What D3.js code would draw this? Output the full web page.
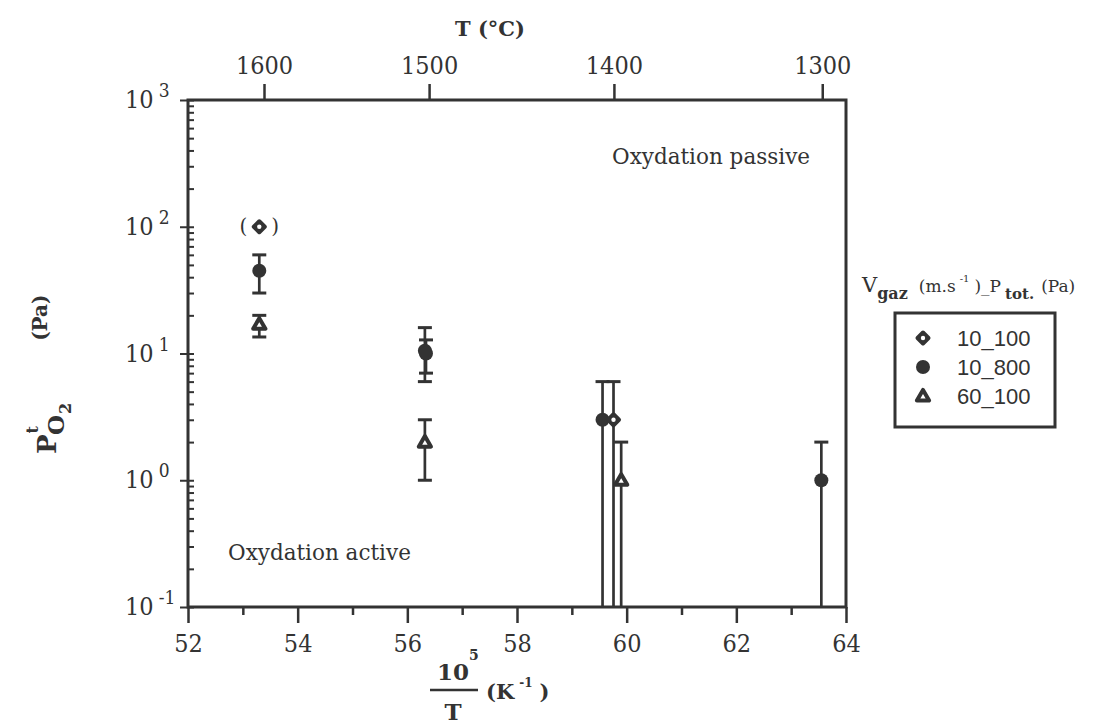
<!DOCTYPE html>
<html><head><meta charset="utf-8">
<script src="https://cdn.jsdelivr.net/npm/d3@7"></script>
<style>
body{margin:0;background:#fff;}
text{fill:#333;font-family:"DejaVu Serif",serif;}
.tick text{font-family:"DejaVu Serif",serif;font-stretch:condensed;}
</style></head><body>
<svg id="c" width="1117" height="724"></svg>
<script>
// ---- data ----
const xTicks = [52,53,54,55,56,57,58,59,60,61,62,63,64];
const tempTicks = [1600,1500,1400,1300];
const yExponents = [-1,0,1,2,3];
const seriesNames = ["10_100","10_800","60_100"];

const s10_100_x  = [53.3, 59.76];
const s10_100_y  = [100, 3];
const s10_100_lo = [null, 0.05];
const s10_100_hi = [null, 6];

const s10_800_x  = [53.3, 56.32, 56.34, 59.56, 63.55];
const s10_800_y  = [45, 10.5, 10, 3, 1];
const s10_800_lo = [30, 6, 7, 0.05, 0.05];
const s10_800_hi = [60, 16, 12.8, 6, 2];

const s60_100_x  = [53.3, 56.32, 59.9];
const s60_100_y  = [17, 2, 1];
const s60_100_lo = [13.5, 1, 0.05];
const s60_100_hi = [20, 3, 2];

// ---- layout ----
const C = "#333";
const svg = d3.select("#c");
const x = d3.scaleLinear().domain([52,64]).range([188,846]);
const y = d3.scaleLog().domain([0.1,1000]).range([607,100]);

// bottom axis
const gB = svg.append("g").attr("transform","translate(0,607)")
  .call(d3.axisBottom(x).tickValues(xTicks).tickSize(16).tickPadding(8)
    .tickFormat(d => d%2===0 ? d : ""));
gB.select(".domain").remove();
gB.selectAll(".tick line").attr("stroke",C).attr("stroke-width",2.5)
  .attr("y2", d => d%2===0 ? 16 : 8);
gB.selectAll(".tick text").attr("font-size",25).attr("fill",C).attr("dy","0.85em");

// top axis (temperature)
const gT = svg.append("g").attr("transform","translate(0,100)")
  .call(d3.axisTop(x).tickValues(tempTicks.map(t => 1e5/(t+273.15))).tickSize(16).tickPadding(10)
    .tickFormat((d,i) => tempTicks[i]));
gT.select(".domain").remove();
gT.selectAll(".tick line").attr("stroke",C).attr("stroke-width",2.5);
gT.selectAll(".tick text").attr("font-size",25).attr("fill",C);

// left axis minor/major ticks
const yTickVals = [];
yExponents.forEach(e => { if (e < 3) for (let m=1;m<10;m++) yTickVals.push(m*Math.pow(10,e)); else yTickVals.push(1000); });
const gL = svg.append("g").attr("transform","translate(188,0)")
  .call(d3.axisLeft(y).tickValues(yTickVals).tickSizeInner(-6).tickFormat(""));
gL.select(".domain").remove();
gL.selectAll(".tick line").attr("stroke",C).attr("stroke-width",2)
  .attr("x1", d => Math.abs(Math.log10(d)%1) < 1e-9 ? -8 : 0)
  .attr("x2", 6);
// y tick labels 10^n
yExponents.forEach(e => {
  const t = svg.append("text").attr("x",125).attr("y",y(Math.pow(10,e))+8).attr("font-size",25)
    .style("font-stretch","condensed");
  t.append("tspan").text("10");
  t.append("tspan").attr("dx",5).attr("dy",-11).attr("font-size",19).text(e<0 ? "-1" : String(e));
});

// frame
svg.append("rect").attr("x",188).attr("y",100).attr("width",658).attr("height",507)
  .attr("fill","none").attr("stroke",C).attr("stroke-width",3);

// axis titles
svg.append("text").attr("x",490).attr("y",36).attr("text-anchor","middle")
  .attr("font-size",21).attr("font-weight","bold").text("T (°C)");

const fx = svg.append("g");
fx.append("text").attr("x",453).attr("y",680).attr("text-anchor","middle").attr("font-size",23).attr("font-weight","bold").text("10");
fx.append("text").attr("x",469).attr("y",660).attr("font-size",14).attr("font-weight","bold").text("5");
fx.append("line").attr("x1",430).attr("x2",478).attr("y1",690).attr("y2",690).attr("stroke",C).attr("stroke-width",2.5);
fx.append("text").attr("x",453).attr("y",720).attr("text-anchor","middle").attr("font-size",23).attr("font-weight","bold").text("T");
const kt = fx.append("text").attr("x",486).attr("y",699).attr("font-size",21).attr("font-weight","bold");
kt.append("tspan").text("(K");
kt.append("tspan").attr("dx",5).attr("dy",-12).attr("font-size",12).text("-1");
kt.append("tspan").attr("dx",7).attr("dy",12).text(")");

const yl = svg.append("text").attr("transform","translate(56,454) rotate(-90)").attr("font-weight","bold").attr("font-size",26);
yl.append("tspan").text("P");
yl.append("tspan").attr("font-size",16).attr("dx",1).attr("dy",-18).text("t");
yl.append("tspan").attr("font-size",23).attr("dx",-9).attr("dy",26).text("O");
yl.append("tspan").attr("font-size",16).attr("dx",1).attr("dy",7).text("2");
yl.append("tspan").attr("font-size",20).attr("dx",62).attr("dy",-24).text("(Pa)");

// annotations
svg.append("text").attr("x",612).attr("y",164).attr("font-size",21.5).text("Oxydation passive");
svg.append("text").attr("x",228).attr("y",560).attr("font-size",21.5).text("Oxydation active");

// ---- marks ----
function errorBars(xs, ys, lo, hi) {
  const g = svg.append("g").attr("stroke",C);
  xs.forEach((xv,i) => {
    if (hi[i] == null) return;
    const yTop = y(hi[i]), yBot = y(Math.max(lo[i], 0.1));
    g.append("line").attr("x1",x(xv)).attr("x2",x(xv)).attr("y1",yTop).attr("y2",yBot).attr("stroke-width",2.7);
    g.append("line").attr("x1",x(xv)-7).attr("x2",x(xv)+7).attr("y1",yTop).attr("y2",yTop).attr("stroke-width",3);
    if (lo[i] >= 0.1)
      g.append("line").attr("x1",x(xv)-7).attr("x2",x(xv)+7).attr("y1",yBot).attr("y2",yBot).attr("stroke-width",3);
  });
}
errorBars(s10_800_x, s10_800_y, s10_800_lo, s10_800_hi);
errorBars(s10_100_x, s10_100_y, s10_100_lo, s10_100_hi);
errorBars(s60_100_x, s60_100_y, s60_100_lo, s60_100_hi);

const diamondPath = "M0,-5.5L5.5,0L0,5.5L-5.5,0Z";
function drawMarker(g, kind, cx, cy) {
  if (kind === "10_100") {
    g.append("path").attr("d",diamondPath).attr("transform",`translate(${cx},${cy})`)
      .attr("fill",C).attr("stroke",C).attr("stroke-width",4).attr("stroke-linejoin","round");
    g.append("circle").attr("cx",cx).attr("cy",cy).attr("r",2.2).attr("fill","#fff");
  } else if (kind === "10_800") {
    g.append("circle").attr("cx",cx).attr("cy",cy).attr("r",7).attr("fill",C);
  } else {
    g.append("path").attr("d",d3.symbol(d3.symbolTriangle,65)()).attr("transform",`translate(${cx},${cy+1})`)
      .attr("fill","#fff").attr("stroke",C).attr("stroke-width",4).attr("stroke-linejoin","round");
  }
}
const gm = svg.append("g");
s10_800_x.forEach((xv,i) => drawMarker(gm,"10_800",x(xv),y(s10_800_y[i])));
s10_100_x.forEach((xv,i) => drawMarker(gm,"10_100",x(xv),y(s10_100_y[i])));
s60_100_x.forEach((xv,i) => drawMarker(gm,"60_100",x(xv),y(s60_100_y[i])));
// parentheses around the bracketed point
svg.append("text").attr("x",x(s10_100_x[0])-12).attr("y",y(s10_100_y[0])+6).attr("text-anchor","end").attr("font-size",20).text("(");
svg.append("text").attr("x",x(s10_100_x[0])+12).attr("y",y(s10_100_y[0])+6).attr("font-size",20).text(")");

// ---- legend ----
const lt = svg.append("text").attr("x",862).attr("y",292).attr("font-size",21);
lt.append("tspan").text("V");
lt.append("tspan").attr("font-size",16).attr("font-weight","bold").attr("dy",7).text("gaz");
lt.append("tspan").attr("dx",11).attr("dy",-7).attr("font-size",17).text("(m.s");
lt.append("tspan").attr("dx",4).attr("dy",-10).attr("font-size",10).text("-1");
lt.append("tspan").attr("dx",5).attr("dy",10).attr("font-size",17).text(")_P");
lt.append("tspan").attr("dx",4).attr("dy",7).attr("font-size",15).attr("font-weight","bold").text("tot.");
lt.append("tspan").attr("dx",7).attr("dy",-7).attr("font-size",17).text("(Pa)");

svg.append("rect").attr("x",895).attr("y",313).attr("width",160).attr("height",114)
  .attr("fill","none").attr("stroke",C).attr("stroke-width",3);
const gLeg = svg.append("g");
seriesNames.forEach((s,i) => {
  const ly = 338 + i*29;
  drawMarker(gLeg, s, 923, ly);
  gLeg.append("text").attr("x",957).attr("y",ly+8).attr("font-size",22)
    .style("font-family","'Liberation Sans',Arial,sans-serif").text(s);
});
</script></body></html>
